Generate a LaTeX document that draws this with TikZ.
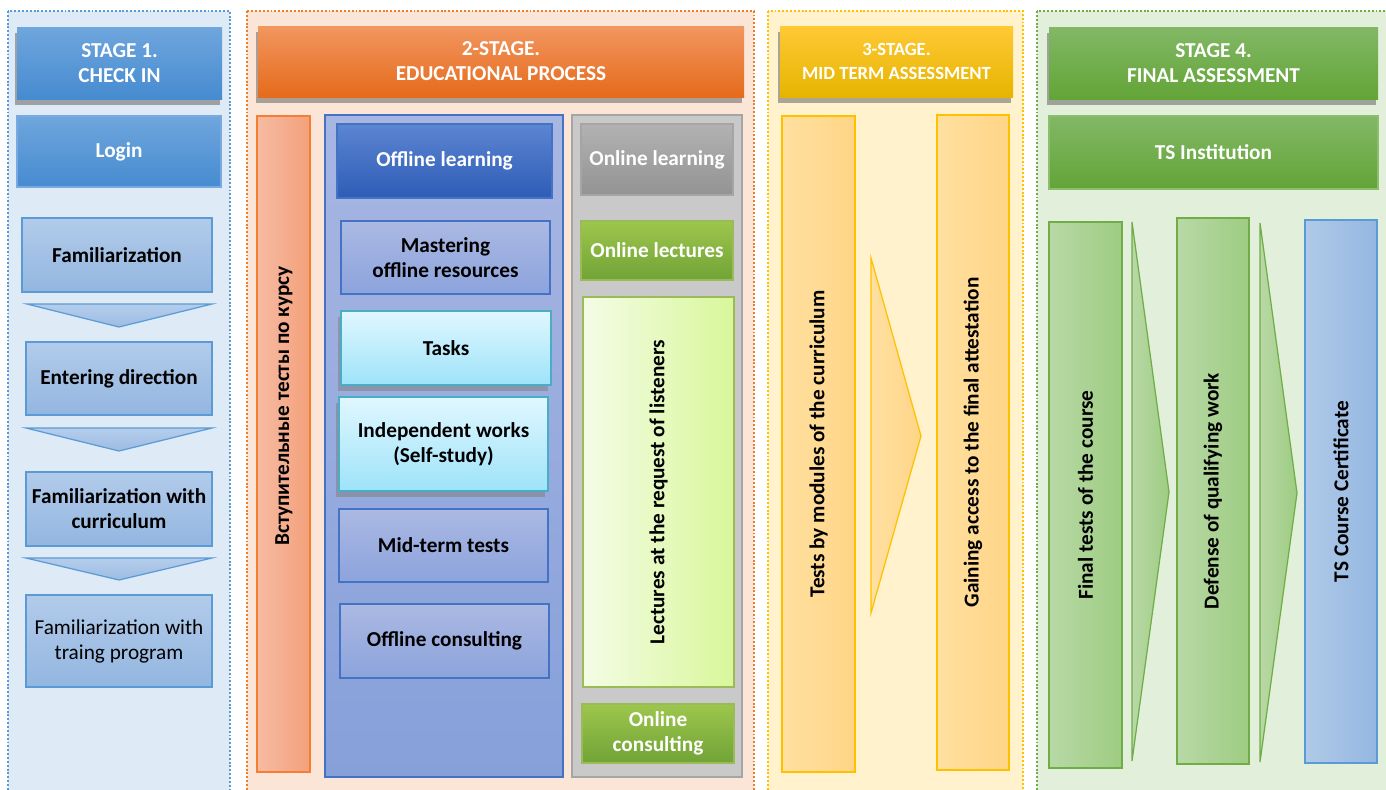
\documentclass[tikz,border=0pt]{standalone}
\usepackage{fontspec}
\setmainfont{Carlito}
\usetikzlibrary{shadows,positioning}

\definecolor{pbluefill}{HTML}{DEEAF6}
\definecolor{pblueline}{HTML}{5B9BD5}
\definecolor{porangefill}{HTML}{FBE5D6}
\definecolor{porangeline}{HTML}{ED7D31}
\definecolor{pgoldfill}{HTML}{FFF2CC}
\definecolor{pgoldline}{HTML}{FFC000}
\definecolor{pgreenfill}{HTML}{E2EFDA}
\definecolor{pgreenline}{HTML}{70AD47}
\definecolor{hblueA}{HTML}{6FA6DD}
\definecolor{hblueB}{HTML}{468BD0}
\definecolor{loginline}{HTML}{78AAE1}
\definecolor{lblueA}{HTML}{B2CBEA}
\definecolor{lblueB}{HTML}{93B6E0}
\definecolor{chevA}{HTML}{B4CDEB}
\definecolor{chevB}{HTML}{9DBCE3}
\definecolor{horangeA}{HTML}{F29660}
\definecolor{horangeB}{HTML}{E56B1B}
\definecolor{barA}{HTML}{F6BBA3}
\definecolor{barB}{HTML}{F4A07A}
\definecolor{barline}{HTML}{F47E31}
\definecolor{bpanelA}{HTML}{A8B6E2}
\definecolor{bpanelB}{HTML}{86A0DA}
\definecolor{bline}{HTML}{4472C4}
\definecolor{dblueA}{HTML}{5C85D2}
\definecolor{dblueB}{HTML}{2E5DB7}
\definecolor{lavA}{HTML}{ABB9E3}
\definecolor{lavB}{HTML}{8CA3DC}
\definecolor{cyanA}{HTML}{E0F7FF}
\definecolor{cyanB}{HTML}{9EE3F9}
\definecolor{cyanline}{HTML}{4BACC6}
\definecolor{gpanel}{HTML}{C9C9C9}
\definecolor{gline}{HTML}{A5A5A5}
\definecolor{greyA}{HTML}{B2B2B2}
\definecolor{greyB}{HTML}{939393}
\definecolor{btnA}{HTML}{9DC64C}
\definecolor{btnB}{HTML}{71A337}
\definecolor{btnline}{HTML}{9BBB59}
\definecolor{reqA}{HTML}{F4FCE6}
\definecolor{reqB}{HTML}{D8F79A}
\definecolor{hgoldA}{HTML}{FFC935}
\definecolor{hgoldB}{HTML}{E6B400}
\definecolor{goldA}{HTML}{FFE0A0}
\definecolor{goldB}{HTML}{FFD587}
\definecolor{hgreenA}{HTML}{82B866}
\definecolor{hgreenB}{HTML}{63A437}
\definecolor{tsline}{HTML}{8CBE6E}
\definecolor{lgreenA}{HTML}{B8D9A6}
\definecolor{lgreenB}{HTML}{9ECC82}
\definecolor{certA}{HTML}{B0CAE8}
\definecolor{certB}{HTML}{94B7E2}

\tikzset{
  sz/.style 2 args={minimum width=#1*0.02cm, minimum height=#2*0.02cm, anchor=north west},
  panel/.style 2 args={draw=#2, fill=#1, line width=1.1pt, dash pattern=on 1.1pt off 1.1pt},
  hdr/.style 2 args={top color=#1, bottom color=#2, draw=none, text=white,
    drop shadow={shadow xshift=-1.2pt, shadow yshift=-3.5pt, fill=black!60, opacity=.55}},
  flat/.style n args={3}{top color=#1, bottom color=#2, draw=#3, line width=0.7pt},
  side/.style n args={3}{left color=#1, right color=#2, draw=#3, line width=0.7pt},
  cyanbox/.style={top color=cyanA, bottom color=cyanB, draw=cyanline, line width=1.1pt,
    drop shadow={shadow xshift=-1.5pt, shadow yshift=-3.5pt, fill=black!50, opacity=.55}},
  vtext/.style={rotate=90}
}

\begin{document}
\begin{tikzpicture}[x=0.02cm, y=-0.02cm,
  every node/.style={font=\fontsize{12.1}{14.2}\selectfont\bfseries, align=center, inner sep=2pt, outer sep=0pt}]
\useasboundingbox (0,0) rectangle (1386,789);

\draw[panel={pbluefill}{pblueline}] (8,11) rectangle (230,800);
\draw[panel={porangefill}{porangeline}] (247,11) rectangle (754,800);
\draw[panel={pgoldfill}{pgoldline}] (768,11) rectangle (1023,800);
\draw[panel={pgreenfill}{pgreenline}] (1037,11) rectangle (1400,800);

% stage 1
\node[hdr={hblueA}{hblueB}, sz={205}{72}] (stageone) at (17,27) {STAGE 1.\\CHECK IN};
\node[flat={hblueA}{hblueB}{loginline}, text=white, sz={204}{71}] (login) at (17,116) {Login};
\node[flat={lblueA}{lblueB}{pblueline}, sz={190}{74}] (famil) at (22,218) {Familiarization};
\node[flat={lblueA}{lblueB}{pblueline}, sz={186}{73}] (direction) at (26,342) {Entering direction};
\node[flat={lblueA}{lblueB}{pblueline}, sz={186}{74}] (curric) at (26,472) {Familiarization with\\curriculum};
\node[flat={lblueA}{lblueB}{pblueline}, sz={186}{92}, font=\fontsize{12.1}{14.2}\selectfont] (program) at (26,595) {Familiarization with\\traing program};
\draw[flat={chevA}{chevB}{pblueline}] (27,304) -- (212,304) -- (119,327) -- cycle;
\draw[flat={chevA}{chevB}{pblueline}] (26,428) -- (212,428) -- (119,451) -- cycle;
\draw[flat={chevA}{chevB}{pblueline}] (26,558) -- (212,558) -- (119,580) -- cycle;

% stage 2
\node[hdr={horangeA}{horangeB}, sz={486}{71}] (stagetwo) at (258,26) {2-STAGE.\\EDUCATIONAL PROCESS};
\node[side={barA}{barB}{barline}, sz={53}{656}] (entry) at (257,116) {};
\node[vtext] (entrytext) at (284,406) {Вступительные тесты по курсу};
\node[flat={bpanelA}{bpanelB}{bline}, sz={238}{662}] (offpanel) at (325,115) {};
\node[flat={dblueA}{dblueB}{bline}, text=white, sz={215}{74}] (offlearn) at (337,124) {Offline learning};
\node[flat={lavA}{lavB}{bline}, sz={209}{73}] (mastering) at (341,221) {Mastering\\offline resources};
\node[cyanbox, sz={210}{74}] (tasks) at (341,311) {Tasks};
\node[cyanbox, sz={209}{94}] (indep) at (339,397) {Independent works\\(Self-study)};
\node[flat={lavA}{lavB}{bline}, sz={209}{73}] (midterm) at (339,509) {Mid-term tests};
\node[flat={lavA}{lavB}{bline}, sz={209}{74}] (offcons) at (340,604) {Offline consulting};
\node[fill=gpanel, draw=gline, line width=1.1pt, sz={170}{662}] (onpanel) at (572,115) {};
\node[flat={greyA}{greyB}{gline}, text=white, sz={152}{71}] (onlearn) at (581,124) {Online learning};
\node[flat={btnA}{btnB}{btnline}, text=white, sz={152}{59}] (onlect) at (581,221) {Online lectures};
\node[side={reqA}{reqB}{btnline}, sz={151}{390}] (request) at (583,297) {};
\node[vtext] (requesttext) at (request.center) {Lectures at the request of listeners};
\node[flat={btnA}{btnB}{btnline}, text=white, sz={152}{59}] (oncons) at (582,704) {Online\\consulting};

% stage 3
\node[hdr={hgoldA}{hgoldB}, sz={233}{71}, font=\fontsize{10.6}{13.5}\selectfont\bfseries] (stagethree) at (780,26) {3-STAGE.\\MID TERM ASSESSMENT};
\node[side={goldA}{goldB}{pgoldline}, sz={73}{656}] (modules) at (782,116) {};
\node[vtext] (modulestext) at (modules.center) {Tests by modules of the curriculum};
\draw[side={goldA}{goldB}{pgoldline}] (871,258) -- (921,436) -- (871,613) -- cycle;
\node[side={goldA}{goldB}{pgoldline}, sz={72}{655}] (access) at (937,115) {};
\node[vtext] (accesstext) at (access.center) {Gaining access to the final attestation};

% stage 4
\node[hdr={hgreenA}{hgreenB}, sz={329}{72}] (stagefour) at (1049,27) {STAGE 4.\\FINAL ASSESSMENT};
\node[flat={hgreenA}{hgreenB}{tsline}, text=white, sz={329}{73}] (institution) at (1049,116) {TS Institution};
\node[side={lgreenA}{lgreenB}{pgreenline}, sz={73}{546}] (finaltests) at (1049,222) {};
\node[vtext] (finaltext) at (finaltests.center) {Final tests of the course};
\draw[side={lgreenA}{lgreenB}{pgreenline}] (1132,222) -- (1169,492) -- (1132,761) -- cycle;
\node[side={lgreenA}{lgreenB}{pgreenline}, sz={72}{546}] (defense) at (1177,218) {};
\node[vtext] (defensetext) at (defense.center) {Defense of qualifying work};
\draw[side={lgreenA}{lgreenB}{pgreenline}] (1260,223) -- (1297,493) -- (1260,762) -- cycle;
\node[side={certA}{certB}{pblueline}, sz={72}{543}] (certificate) at (1305,220) {};
\node[vtext] (certtext) at (certificate.center) {TS Course Certificate};
\end{tikzpicture}
\end{document}
